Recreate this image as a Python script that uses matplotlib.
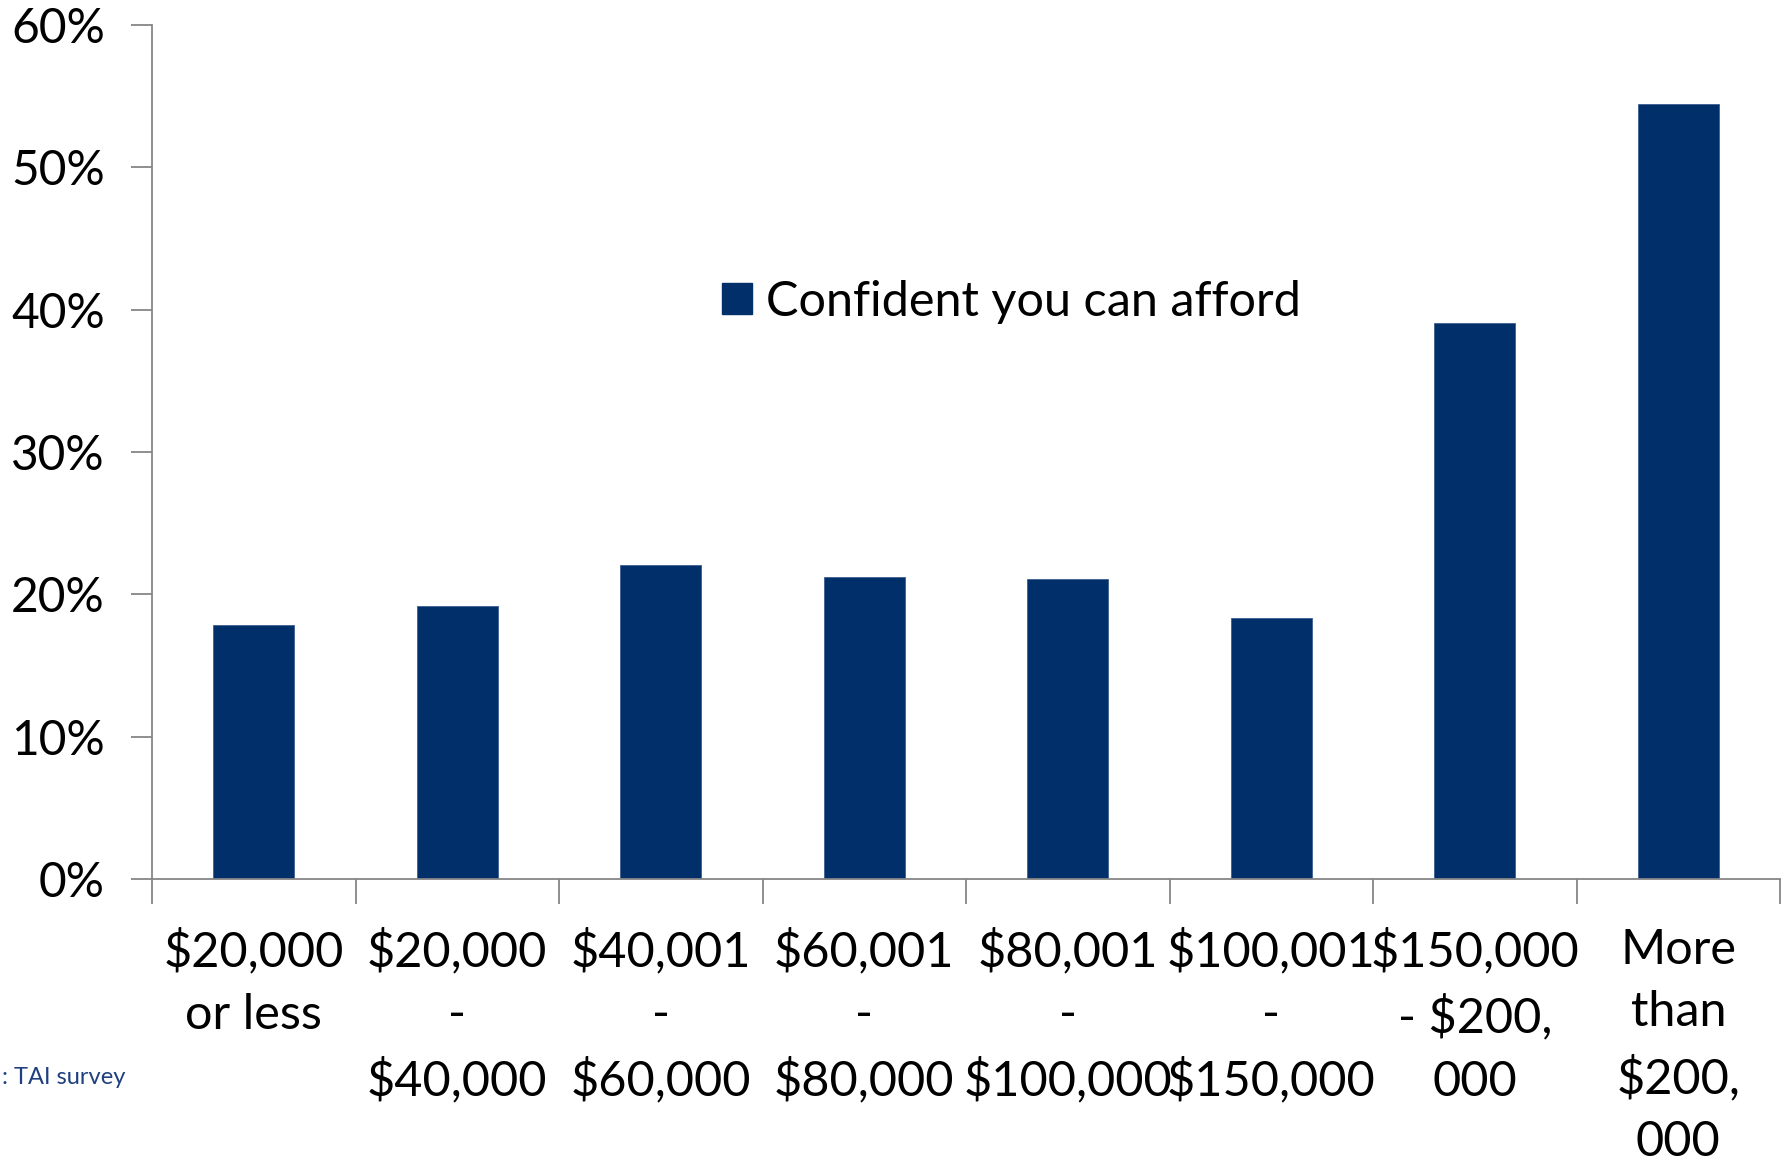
import matplotlib.pyplot as plt
from matplotlib.patches import Patch
import numpy as np

# Data
categories = ['$20,000\nor less',
              '$20,000\n-\n$40,000',
              '$40,001\n-\n$60,000',
              '$60,001\n-\n$80,000',
              '$80,001\n-\n$100,000',
              '$100,001\n-\n$150,000',
              '$150,000\n- $200,\n000',
              'More\nthan\n$200,\n000']
confident = [17.85, 19.15, 22.05, 21.25, 21.05, 18.35, 39.05, 54.45]
series_name = 'Confident you can afford'
source_note = ': TAI survey'   # only this part of the note is visible in the original

bar_color = '#012F6A'
axis_color = '#868686'

plt.rcParams['font.family'] = ['Lato', 'DejaVu Sans']

fig = plt.figure(figsize = (17.87, 11.63), dpi = 100)
ax = fig.add_axes([152 / 1787, 1 - 879 / 1163, (1780 - 152) / 1787, (879 - 25) / 1163])

x = np.arange(len(categories))
ax.bar(x, confident, width = 0.4, color = bar_color, edgecolor = '#3D5F93', linewidth = 0.6)

ax.set_xlim(-0.5, len(categories) - 0.5)
ax.set_ylim(0, 60)

ax.set_yticks(np.arange(0, 61, 10))
ax.set_yticklabels([str(v) + '%' for v in range(0, 61, 10)])

ax.set_xticks(x)
ax.set_xticklabels(categories, linespacing = 1.52)
ax.set_xticks(np.arange(-0.5, len(categories), 1), minor = True)

ax.tick_params(axis = 'y', which = 'major', length = 15, width = 1.3, color = axis_color,
               labelsize = 34.5, pad = 19)
ax.tick_params(axis = 'x', which = 'major', length = 0, labelsize = 35, pad = 35)
ax.tick_params(axis = 'x', which = 'minor', length = 18, width = 1.3, color = axis_color)

for side in ['top', 'right']:
    ax.spines[side].set_visible(False)
for side in ['left', 'bottom']:
    ax.spines[side].set_color(axis_color)
    ax.spines[side].set_linewidth(1.3)

handle = Patch(facecolor = bar_color, edgecolor = bar_color)
ax.legend([handle], [series_name], loc = 'center left', bbox_to_anchor = (0.350, 0.676),
          frameon = False, fontsize = 35, handlelength = 0.62, handleheight = 0.62,
          handletextpad = 0.29, borderpad = 0, borderaxespad = 0)

fig.text(2 / 1787, 1 - 1077 / 1163, source_note, ha = 'left', va = 'center',
         fontsize = 17, color = '#1F3F7F')

fig.savefig('out.png', dpi = 100)
